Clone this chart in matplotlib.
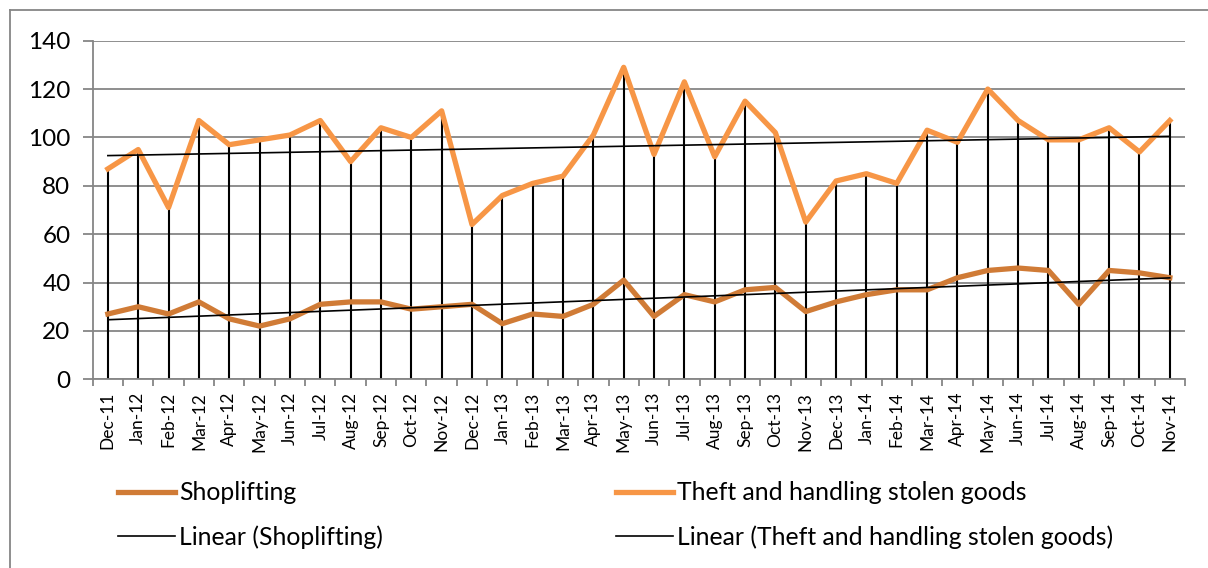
import numpy as np
import matplotlib
matplotlib.use("Agg")
import matplotlib.pyplot as plt
from matplotlib.lines import Line2D

plt.rcParams['font.family'] = ['Lato', 'DejaVu Sans']

months = ['Dec-11', 'Jan-12', 'Feb-12', 'Mar-12', 'Apr-12', 'May-12', 'Jun-12',
          'Jul-12', 'Aug-12', 'Sep-12', 'Oct-12', 'Nov-12', 'Dec-12', 'Jan-13',
          'Feb-13', 'Mar-13', 'Apr-13', 'May-13', 'Jun-13', 'Jul-13', 'Aug-13',
          'Sep-13', 'Oct-13', 'Nov-13', 'Dec-13', 'Jan-14', 'Feb-14', 'Mar-14',
          'Apr-14', 'May-14', 'Jun-14', 'Jul-14', 'Aug-14', 'Sep-14', 'Oct-14',
          'Nov-14']

shoplifting = [27, 30, 27, 32, 25, 22, 25, 31, 32, 32, 29, 30,
               31, 23, 27, 26, 31, 41, 26, 35, 32, 37, 38, 28,
               32, 35, 37, 37, 42, 45, 46, 45, 31, 45, 44, 42]

theft = [87, 95, 71, 107, 97, 99, 101, 107, 90, 104, 100, 111,
         64, 76, 81, 84, 101, 129, 93, 123, 92, 115, 102, 65,
         82, 85, 81, 103, 98, 120, 107, 99, 99, 104, 94, 107]

shop_col = '#D07B36'
theft_col = '#F79646'
grid_col = '#868686'

xs = np.arange(len(months))

fig = plt.figure(figsize=(12.08, 5.68), dpi=100, facecolor='w')
ax = fig.add_axes([92.7 / 1208, 188.7 / 568, (1185 - 92.7) / 1208, 338.6 / 568])

# drop lines from the highest series down to the axis
tops = np.maximum(shoplifting, theft)
ax.vlines(xs, 0, tops, colors='black', linewidth=1.5, zorder=2)

l_shop, = ax.plot(xs, shoplifting, color=shop_col, lw=3.8, zorder=3,
                  solid_joinstyle='round')
l_theft, = ax.plot(xs, theft, color=theft_col, lw=3.8, zorder=3,
                   solid_joinstyle='round')

# linear trendlines
ps = np.polyfit(xs, shoplifting, 1)
pt = np.polyfit(xs, theft, 1)
t_shop, = ax.plot(xs, np.polyval(ps, xs), color='black', lw=1.2, zorder=4)
t_theft, = ax.plot(xs, np.polyval(pt, xs), color='black', lw=1.2, zorder=4)

ax.set_ylim(0, 140)
ax.set_yticks(np.arange(0, 141, 20))
ax.set_xlim(-0.5, len(months) - 0.5)
ax.set_xticks(xs)
ax.set_xticklabels(months, rotation=90, fontsize=12.5)
ax.set_xticks(np.arange(-0.5, len(months), 1), minor=True)
ax.tick_params(axis='x', which='major', length=0, pad=9)
ax.tick_params(axis='x', which='minor', length=5, width=1.3, color=grid_col,
               direction='out')
ax.tick_params(axis='y', length=7, width=1.3, color=grid_col, labelsize=17.5,
               pad=9)
ax.yaxis.grid(True, color=grid_col, lw=1.3)
ax.set_axisbelow(True)
for s in ['top', 'right']:
    ax.spines[s].set_visible(False)
ax.spines['left'].set_color(grid_col)
ax.spines['left'].set_linewidth(1.3)
ax.spines['bottom'].set_color(grid_col)
ax.spines['bottom'].set_linewidth(1.3)

fig.legend([l_shop, t_shop, l_theft, t_theft],
           ['Shoplifting', 'Linear (Shoplifting)',
            'Theft and handling stolen goods',
            'Linear (Theft and handling stolen goods)'],
           ncol=2, loc='upper left', bbox_to_anchor=(106 / 1208, 1 - 469 / 568),
           frameon=False, fontsize=17.8, handlelength=2.3, handletextpad=0.15,
           labelspacing=0.85, columnspacing=9.45, borderpad=0)

# outer chart border
fig.add_artist(Line2D([10 / 1208, 10 / 1208], [0, 1 - 10 / 568],
                      color=grid_col, lw=1.3))
fig.add_artist(Line2D([10 / 1208, 1], [1 - 10 / 568, 1 - 10 / 568],
                      color=grid_col, lw=1.3))

fig.savefig('out.png', dpi=100, facecolor='w')
